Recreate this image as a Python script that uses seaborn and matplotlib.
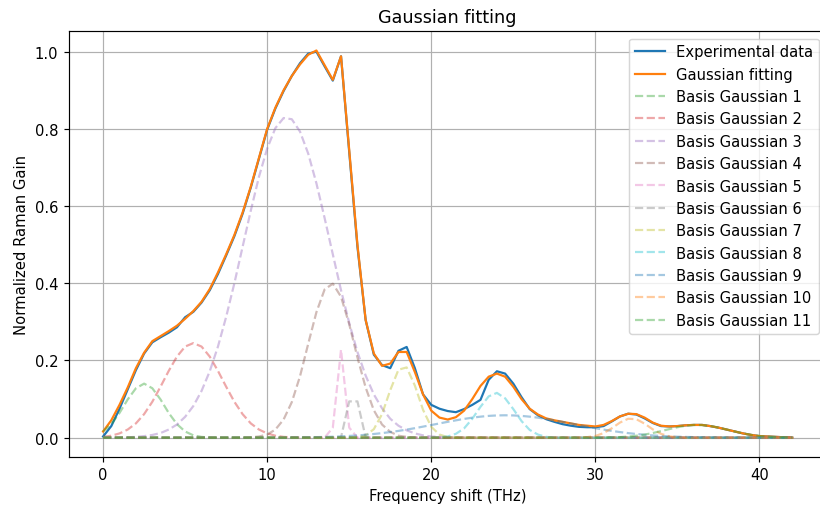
import numpy as np
import pandas as pd
import seaborn as sns
import matplotlib
import matplotlib.pyplot as plt

matplotlib.use('Agg')

# frequency grid (THz), 0.5 THz steps from 0 to 42
freq = np.linspace(0, 42, 85)

experimental = [
    0.003, 0.030, 0.075, 0.125, 0.175, 0.218, 0.247, 0.260, 0.272, 0.286,
    0.312, 0.326, 0.350, 0.382, 0.424, 0.472, 0.522, 0.580, 0.648, 0.723,
    0.798, 0.853, 0.898, 0.937, 0.970, 0.995, 1.000, 0.962, 0.925, 0.988,
    0.740, 0.495, 0.305, 0.215, 0.188, 0.180, 0.225, 0.235, 0.180, 0.112,
    0.085, 0.075, 0.069, 0.066, 0.074, 0.085, 0.098, 0.150, 0.172, 0.166,
    0.140, 0.105, 0.074, 0.058, 0.048, 0.041, 0.035, 0.031, 0.028, 0.027,
    0.027, 0.030, 0.042, 0.055, 0.062, 0.060, 0.050, 0.038, 0.030, 0.029,
    0.030, 0.032, 0.033, 0.033, 0.030, 0.026, 0.021, 0.016, 0.011, 0.007,
    0.004, 0.003, 0.002, 0.001, 0.000,
]

# fitted curve
fitted = [
    0.016, 0.045, 0.085, 0.130, 0.180, 0.220, 0.250, 0.263, 0.276, 0.290,
    0.308, 0.328, 0.352, 0.385, 0.428, 0.475, 0.525, 0.583, 0.650, 0.725,
    0.800, 0.855, 0.900, 0.937, 0.967, 0.992, 1.003, 0.965, 0.927, 0.988,
    0.745, 0.500, 0.305, 0.218, 0.186, 0.192, 0.222, 0.222, 0.170, 0.112,
    0.070, 0.052, 0.047, 0.053, 0.070, 0.100, 0.134, 0.158, 0.166, 0.158,
    0.132, 0.100, 0.075, 0.060, 0.050, 0.045, 0.041, 0.037, 0.033, 0.031,
    0.029, 0.033, 0.043, 0.055, 0.062, 0.061, 0.052, 0.039, 0.031, 0.029,
    0.030, 0.032, 0.033, 0.033, 0.030, 0.026, 0.021, 0.016, 0.011, 0.007,
    0.004, 0.003, 0.002, 0.001, 0.000,
]

# basis gaussians: first frequency where each is non-zero, then its values
basis_start = [0.0, 0.0, 1.0, 9.0, 14.0, 14.5, 15.5, 20.5, 11.5, 29.0, 31.0]
basis_1 = [0.016, 0.035, 0.064, 0.099, 0.128, 0.140, 0.128, 0.099, 0.064, 0.035,
           0.016, 0.006, 0.002, 0.0005]
basis_2 = [0.002, 0.005, 0.011, 0.021, 0.037, 0.061, 0.093, 0.132, 0.173, 0.210,
           0.236, 0.245, 0.236, 0.210, 0.173, 0.132, 0.093, 0.061, 0.037, 0.021,
           0.011, 0.005, 0.002, 0.001, 0.0004]
basis_3 = [0.0005, 0.001, 0.002, 0.004, 0.007, 0.012, 0.021, 0.034, 0.054, 0.082,
           0.121, 0.172, 0.236, 0.313, 0.400, 0.494, 0.588, 0.676, 0.749, 0.802,
           0.828, 0.825, 0.793, 0.736, 0.659, 0.569, 0.475, 0.382, 0.297, 0.222,
           0.161, 0.112, 0.076, 0.049, 0.031, 0.019, 0.011, 0.006, 0.003, 0.002,
           0.001]
basis_4 = [0.001, 0.003, 0.008, 0.021, 0.047, 0.092, 0.159, 0.243, 0.325, 0.384,
           0.399, 0.365, 0.294, 0.208, 0.130, 0.071, 0.034, 0.015, 0.005, 0.002,
           0.0005]
basis_5 = [0.026, 0.228, 0.026]
basis_6 = [0.001, 0.094, 0.094, 0.001]
basis_7 = [0.001, 0.006, 0.022, 0.061, 0.123, 0.176, 0.182, 0.135, 0.072, 0.028,
           0.008, 0.0015]
basis_8 = [0.001, 0.003, 0.010, 0.024, 0.049, 0.080, 0.107, 0.116, 0.102, 0.074,
           0.043, 0.020, 0.008, 0.002]
basis_9 = [0.0005, 0.0007, 0.0010, 0.0014, 0.0019, 0.0025, 0.0034, 0.0045, 0.0058, 0.0075,
           0.0095, 0.0118, 0.0145, 0.0175, 0.0209, 0.0246, 0.0286, 0.0327, 0.0369, 0.0410,
           0.0449, 0.0486, 0.0518, 0.0544, 0.0564, 0.0576, 0.0580, 0.0576, 0.0564, 0.0544,
           0.0518, 0.0486, 0.0449, 0.0410, 0.0369, 0.0327, 0.0286, 0.0246, 0.0209, 0.0175,
           0.0145, 0.0118, 0.0095, 0.0075, 0.0058, 0.0045, 0.0034, 0.0025, 0.0019, 0.0014,
           0.0010, 0.0007, 0.0005]
basis_10 = [0.0003, 0.0013, 0.0044, 0.0118, 0.0243, 0.0391, 0.0490, 0.0478, 0.0363, 0.0215,
            0.0099, 0.0035, 0.0010]
basis_11 = [0.0008, 0.0015, 0.0029, 0.0050, 0.0080, 0.0120, 0.0169, 0.0221, 0.0270, 0.0308,
            0.0328, 0.0326, 0.0302, 0.0261, 0.0211, 0.0159, 0.0111, 0.0073, 0.0045, 0.0025,
            0.0014, 0.0007, 0.0003]
basis_values = [basis_1, basis_2, basis_3, basis_4, basis_5, basis_6,
                basis_7, basis_8, basis_9, basis_10, basis_11]

colors = sns.color_palette("tab10")

# slightly higher dpi so text and lines come out at the reference's size
dpi = 106
fig = plt.figure(figsize=(820 / dpi, 507 / dpi), dpi=dpi)
ax = fig.add_axes([0.0837, 0.0966, 0.9245, 0.840])

sns.lineplot(x=freq, y=experimental, color=colors[0], label="Experimental data", ax=ax)
sns.lineplot(x=freq, y=fitted, color=colors[1], label="Gaussian fitting", ax=ax)

for i, (start, vals) in enumerate(zip(basis_start, basis_values)):
    # pad each basis curve with zeros over the whole frequency range
    curve = np.zeros(len(freq))
    k = int(round(start / 0.5))
    curve[k:k + len(vals)] = vals
    sns.lineplot(x=freq, y=curve, color=colors[(i + 2) % 10], linestyle="--",
                 alpha=0.4, label=f"Basis Gaussian {i + 1}", ax=ax)

ax.set_title("Gaussian fitting")
ax.set_xlabel("Frequency shift (THz)")
ax.set_ylabel("Normalized Raman Gain")
ax.grid(True)
ax.legend(loc="upper right")

plt.savefig("out.png", dpi=dpi)
plt.close()
